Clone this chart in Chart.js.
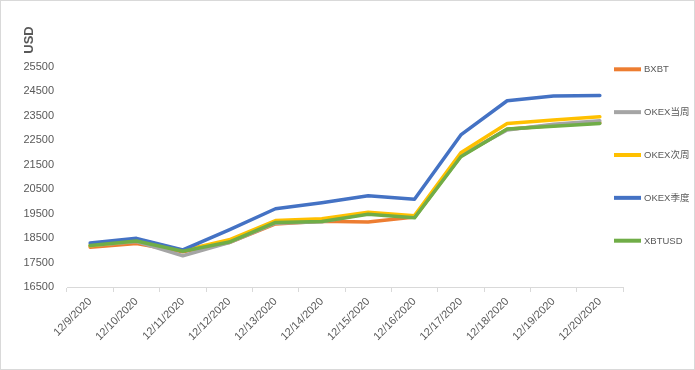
<!DOCTYPE html>
<html lang="zh">
<head>
  <meta charset="UTF-8">
  <title>BTC price</title>
  <script src="https://cdn.jsdelivr.net/npm/chart.js"></script>
  <style>
    body { margin: 0; background: #fff; }
    #wrap {
      width: 695px;
      height: 370px;
      border: 1px solid #d9d9d9;
      box-sizing: border-box;
      position: relative;
    }
  </style>
</head>
<body>
  <div id="wrap">
    <canvas id="priceChart"></canvas>
  </div>

  <script>
    const labels = ["12/9/2020", "12/10/2020", "12/11/2020", "12/12/2020", "12/13/2020", "12/14/2020",
                    "12/15/2020", "12/16/2020", "12/17/2020", "12/18/2020", "12/19/2020", "12/20/2020"];

    const bxbt        = [18130, 18280, 17940, 18320, 19080, 19190, 19160, 19360, 21860, 22950, 23110, 23220];
    const okexWeek    = [18190, 18360, 17780, 18320, 19110, 19170, 19520, 19360, 21890, 22920, 23160, 23300];
    const okexNext    = [18190, 18400, 18000, 18430, 19220, 19290, 19560, 19420, 21990, 23190, 23330, 23460];
    const okexQuarter = [18300, 18490, 18020, 18840, 19700, 19950, 20230, 20090, 22720, 24120, 24310, 24330];
    const xbtusd      = [18200, 18380, 17960, 18340, 19140, 19180, 19480, 19330, 21830, 22960, 23080, 23190];

    const yMin = 16500;
    const yMax = 25500;
    const yStep = 1000;

    const font = '"Liberation Sans", "Noto Sans CJK SC", sans-serif';
    const textColor = "#595959";

    const series = [
      { label: "BXBT",      data: bxbt,        color: "#ED7D31" },
      { label: "OKEX当周",  data: okexWeek,    color: "#A5A5A5" },
      { label: "OKEX次周",  data: okexNext,    color: "#FFC000" },
      { label: "OKEX季度",  data: okexQuarter, color: "#4472C4" },
      { label: "XBTUSD",    data: xbtusd,      color: "#70AD47" },
    ];

    const datasets = series.map((s, i) => ({
      label: s.label,
      data: s.data,
      borderColor: s.color,
      backgroundColor: s.color,
      borderWidth: 3.5,
      pointRadius: 0,
      tension: 0,
      borderJoinStyle: "round",
      borderCapStyle: "round",
      order: series.length - i, // later series drawn on top, like Excel
    }));

    // legend on the right + "USD" title above the value axis
    const decor = {
      id: "decor",
      afterDraw(chart) {
        const ctx = chart.ctx;
        ctx.save();
        chart.data.datasets.forEach((ds, i) => {
          const y = 68.3 + i * 42.85;
          ctx.strokeStyle = ds.borderColor;
          ctx.lineWidth = 4;
          ctx.beginPath();
          ctx.moveTo(613, y);
          ctx.lineTo(640, y);
          ctx.stroke();
          ctx.fillStyle = textColor;
          ctx.font = "9.5px " + font;
          ctx.textBaseline = "middle";
          ctx.textAlign = "left";
          ctx.fillText(ds.label, 643, y + 0.5);
        });
        ctx.translate(28, 39);
        ctx.rotate(-Math.PI / 2);
        ctx.font = "bold 13px " + font;
        ctx.textAlign = "center";
        ctx.textBaseline = "middle";
        ctx.fillText("USD", 0, 0);
        ctx.restore();
      },
    };

    const ctx = document.getElementById("priceChart").getContext("2d");
    const priceChart = new Chart(ctx, {
      type: "line",
      data: { labels: labels, datasets: datasets },
      plugins: [decor],
      options: {
        responsive: true,
        maintainAspectRatio: false,
        animation: false,
        layout: { padding: { left: 0, right: 71, top: 66, bottom: 0 } },
        plugins: {
          legend: { display: false },
          tooltip: { enabled: false },
        },
        scales: {
          x: {
            offset: true,
            grid: {
              offset: true,
              drawOnChartArea: false,
              drawTicks: true,
              tickLength: 5,
              color: "#d9d9d9",
            },
            border: { display: true, color: "#d9d9d9", width: 1 },
            ticks: {
              color: textColor,
              font: { family: font, size: 11 },
              minRotation: 45,
              maxRotation: 45,
              autoSkip: false,
              padding: 3,
            },
            afterFit: (scale) => { scale.height = 82; },
          },
          y: {
            min: yMin,
            max: yMax,
            grid: { display: false, drawTicks: false },
            border: { display: false },
            ticks: {
              stepSize: yStep,
              color: textColor,
              font: { family: font, size: 11 },
              padding: 13,
              callback: (value) => String(value),
            },
            afterFit: (scale) => { scale.width = 66; },
          },
        },
      },
    });
  </script>
</body>
</html>
